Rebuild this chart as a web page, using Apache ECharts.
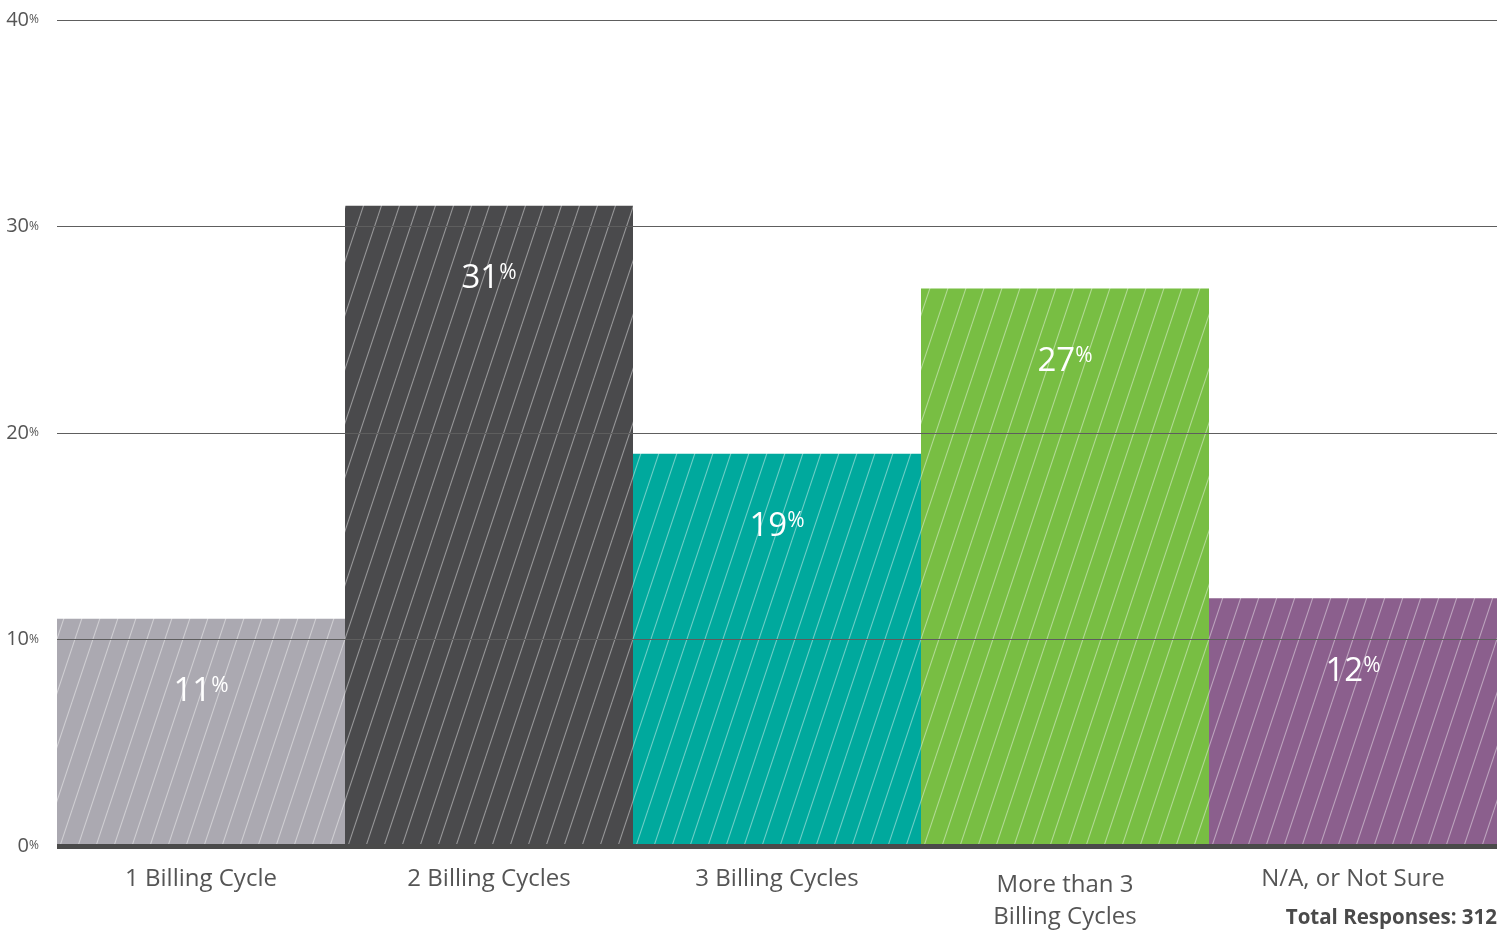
<!DOCTYPE html>
<html>
<head>
<meta charset="utf-8">
<script src="https://cdn.jsdelivr.net/npm/echarts/dist/echarts.min.js"></script>
<style>
  html, body { margin: 0; padding: 0; background: #ffffff; }
  #chart { width: 1510px; height: 933px; }
</style>
</head>
<body>
<div id="chart"></div>
<script>
// Survey answers: share of respondents (%) per number of billing cycles
const categories = ['1 Billing Cycle', '2 Billing Cycles', '3 Billing Cycles', 'More than 3\nBilling Cycles', 'N/A, or Not Sure'];
const shares = [11, 31, 19, 27, 12];
const barColors = ['#aba9b1', '#4a4a4c', '#00a99d', '#78be43', '#8b5f8d'];
const yTicks = [0, 10, 20, 30, 40];
const totalResponses = 312;

// Solid fill with thin light diagonal hatching, tiled seamlessly
function hatchFill(base) {
  const w = 18, h = 54;
  const c = document.createElement('canvas');
  c.width = w; c.height = h;
  const g = c.getContext('2d');
  g.fillStyle = base;
  g.fillRect(0, 0, w, h);
  g.strokeStyle = 'rgba(255,255,255,0.42)';
  g.lineWidth = 1.1;
  for (const o of [-w, 0, w]) {
    g.beginPath();
    g.moveTo(o, h);
    g.lineTo(o + w, 0);
    g.stroke();
  }
  return { image: c, repeat: 'repeat' };
}

const FONT = '"Open Sans", "Noto Sans", sans-serif';

// Shared scale for the value axes (numbers and their small "%" marks)
const valueScale = {
  type: 'value',
  min: yTicks[0],
  max: yTicks[yTicks.length - 1],
  interval: yTicks[1] - yTicks[0],
  position: 'left',
  axisLine: { show: false },
  axisTick: { show: false }
};

const chart = echarts.init(document.getElementById('chart'), null, { renderer: 'canvas' });

chart.setOption({
  animation: false,
  backgroundColor: '#ffffff',
  grid: { left: 57, right: 13, top: 20, bottom: 87, outerBoundsMode: 'none', containLabel: false },
  xAxis: {
    type: 'category',
    data: categories.map(c => c.includes('\n')
      ? { value: c, textStyle: { lineHeight: 32, padding: [5, 0, 0, 0] } }
      : { value: c }),
    boundaryGap: true,
    z: 5,
    axisLine: { show: true, lineStyle: { color: '#4a4a4a', width: 5, cap: 'butt' } },
    axisTick: { show: false },
    axisLabel: {
      interval: 0,
      margin: 18,
      color: '#555555',
      fontFamily: FONT,
      fontSize: 24,
      lineHeight: 30
    },
    splitLine: { show: false }
  },
  yAxis: [
    Object.assign({}, valueScale, {
      z: 3,
      splitLine: { show: true, lineStyle: { color: '#5e5e5e', width: 1 } },
      axisLabel: {
        margin: 28,
        align: 'right',
        verticalAlign: 'middle',
        color: '#555555',
        fontFamily: FONT,
        fontSize: 20,
        padding: [4, 0, 0, 0],
        formatter: '{value}'
      }
    }),
    Object.assign({}, valueScale, {
      z: 3,
      splitLine: { show: false },
      axisLabel: {
        margin: 18,
        align: 'right',
        verticalAlign: 'middle',
        color: '#555555',
        fontFamily: FONT,
        fontSize: 12,
        padding: [0, 0, 2, 0],
        formatter: () => '%'
      }
    })
  ],
  series: [{
    type: 'bar',
    barWidth: '100%',
    barGap: '0%',
    data: shares.map((v, i) => ({ value: v, itemStyle: { color: hatchFill(barColors[i]) } })),
    label: {
      show: true,
      position: 'insideTop',
      distance: 53,
      formatter: p => '{num|' + p.value + '}{pct|%}',
      rich: {
        num: { fontFamily: FONT, fontSize: 33, color: '#ffffff', lineHeight: 40 },
        pct: { fontFamily: FONT, fontSize: 21, color: '#ffffff', verticalAlign: 'top', lineHeight: 22, padding: [4, 0, 0, 0] }
      }
    }
  }],
  graphic: [{
    type: 'text',
    right: 13,
    top: 908,
    style: {
      text: 'Total Responses: ' + totalResponses,
      fontFamily: FONT,
      fontWeight: 'bold',
      fontSize: 20.5,
      fill: '#4a4a4a'
    }
  }]
});
</script>
</body>
</html>
